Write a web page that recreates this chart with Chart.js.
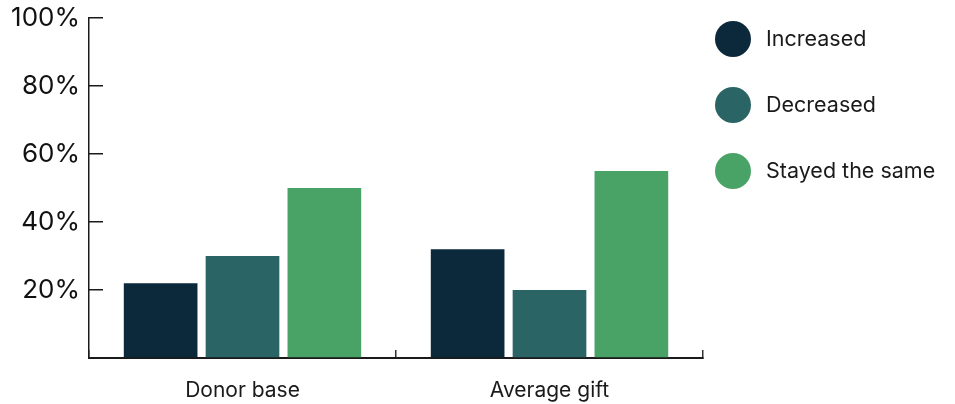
<!DOCTYPE html>
<html>
<head>
<meta charset="utf-8">
<script src="https://cdn.jsdelivr.net/npm/chart.js@4"></script>
<style>
  html, body { margin: 0; padding: 0; background: #ffffff; }
  #wrap { width: 955px; height: 404px; }
</style>
</head>
<body>
<div id="wrap"><canvas id="chart" width="955" height="404"></canvas></div>
<script>
// Share of respondents whose donor base / average gift changed
const categories = ['Donor base', 'Average gift'];
const seriesNames = ['Increased', 'Decreased', 'Stayed the same'];
const increased = [22, 32];
const decreased = [30, 20];
const stayedSame = [50, 55];
const yTicks = [0, 20, 40, 60, 80, 100];

const colors = ['#0b293b', '#2b6465', '#4aa366'];
const FONT = 'Inter, "Noto Sans", sans-serif';

// Legend drawn at the right of the plot: big circles with labels
const sideLegend = {
  id: 'sideLegend',
  afterDraw(chart) {
    const { ctx, chartArea } = chart;
    ctx.save();
    ctx.font = '21.5px ' + FONT;
    ctx.textBaseline = 'middle';
    ctx.textAlign = 'left';
    chart.data.datasets.forEach((ds, i) => {
      const cx = chartArea.right + 30;
      const cy = chartArea.top + 21 + i * 66;
      ctx.beginPath();
      ctx.arc(cx, cy, 18, 0, Math.PI * 2);
      ctx.fillStyle = ds.backgroundColor;
      ctx.fill();
      ctx.fillStyle = '#1a1a1a';
      ctx.fillText(ds.label, cx + 33, cy + 1);
    });
    ctx.restore();
  }
};

// keep the plot box fixed: no extra room reserved for overhanging labels
function noOverhang(scale) {
  scale.paddingTop = 0;
  scale.paddingBottom = 0;
  scale.paddingLeft = 0;
  scale.paddingRight = 0;
}

new Chart(document.getElementById('chart'), {
  type: 'bar',
  data: {
    labels: categories,
    datasets: [
      { label: seriesNames[0], data: increased, backgroundColor: colors[0] },
      { label: seriesNames[1], data: decreased, backgroundColor: colors[1] },
      { label: seriesNames[2], data: stayedSame, backgroundColor: colors[2] }
    ]
  },
  options: {
    responsive: false,
    animation: false,
    layout: { padding: { left: 0, right: 252, top: 18, bottom: 0 } },
    datasets: { bar: { categoryPercentage: 0.8, barPercentage: 0.9 } },
    plugins: {
      legend: { display: false },
      tooltip: { enabled: false }
    },
    scales: {
      x: {
        grid: {
          offset: true,
          drawOnChartArea: false,
          tickLength: -8,
          color: '#333333',
          lineWidth: 1.5
        },
        border: { display: true, color: '#1a1a1a', width: 2 },
        ticks: {
          padding: 28,
          color: '#1a1a1a',
          font: { family: FONT, size: 21 }
        },
        afterFit(scale) { scale.height = 46; noOverhang(scale); }
      },
      y: {
        min: 0,
        max: 100,
        afterBuildTicks(scale) { scale.ticks = yTicks.map(v => ({ value: v })); },
        grid: {
          drawOnChartArea: false,
          tickLength: -14,
          color: '#1a1a1a',
          lineWidth: 1.5
        },
        border: { display: true, color: '#1a1a1a', width: 1.5 },
        ticks: {
          padding: 23,
          color: '#111111',
          font: { family: FONT, size: 26 },
          callback: v => (v === 0 ? '' : v + '%')
        },
        afterFit(scale) { scale.width = 89; noOverhang(scale); }
      }
    }
  },
  plugins: [sideLegend]
});
</script>
</body>
</html>
